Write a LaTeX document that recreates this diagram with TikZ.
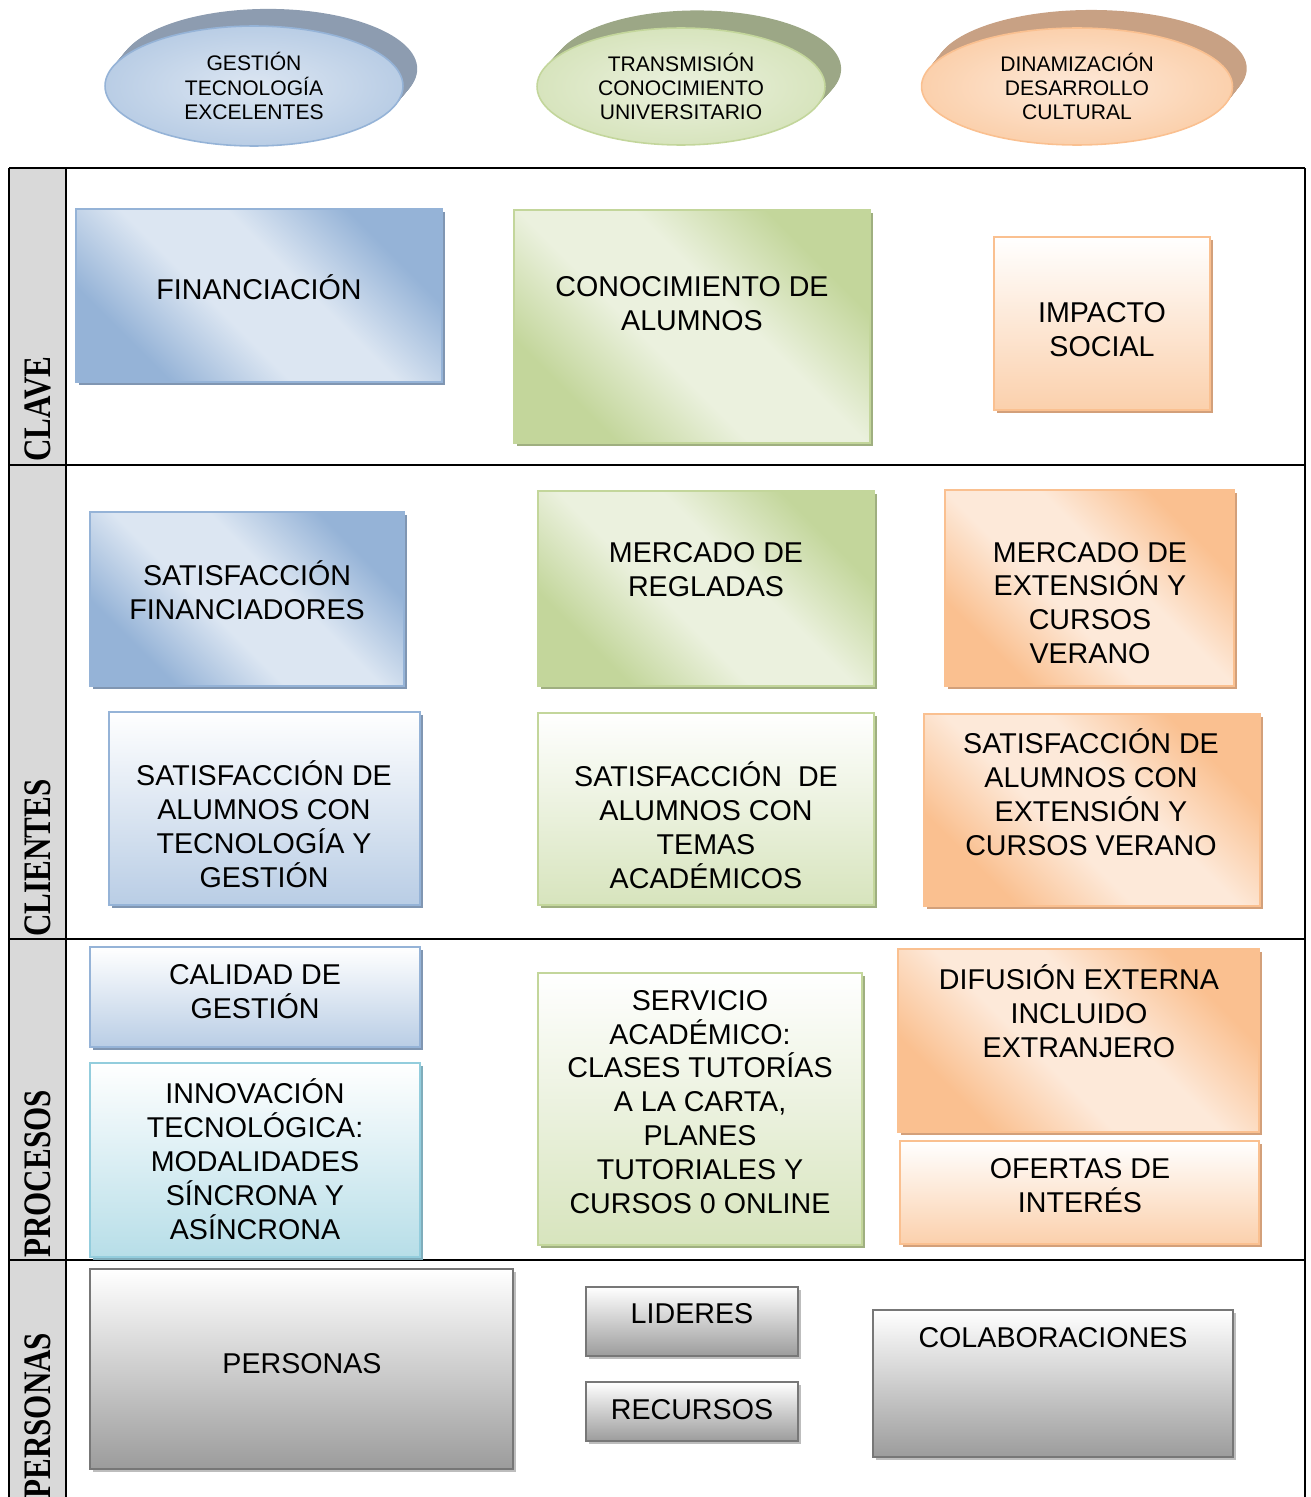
\documentclass[tikz,border=0pt]{standalone}
\usepackage{fontspec}
\setmainfont{Liberation Sans}
\newfontfamily\rowfont{Liberation Serif}
\usetikzlibrary{fit, shadows, shapes.geometric}
\definecolor{bluedark}{HTML}{95B3D7}
\definecolor{bluelight}{HTML}{DCE6F2}
\definecolor{bluemid}{HTML}{B9CDE5}
\definecolor{blueshadow}{HTML}{8096B2}
\definecolor{blueback}{HTML}{8D9CB0}
\definecolor{greendark}{HTML}{C3D69B}
\definecolor{greenlight}{HTML}{EBF1DE}
\definecolor{greenmid}{HTML}{D7E4BD}
\definecolor{greenshadow}{HTML}{9FAF80}
\definecolor{greenback}{HTML}{9CA786}
\definecolor{orangedark}{HTML}{FAC090}
\definecolor{orangelight}{HTML}{FDE9D9}
\definecolor{orangemid}{HTML}{FBD0AC}
\definecolor{orangeshadow}{HTML}{D3A07A}
\definecolor{orangeback}{HTML}{C8A184}
\definecolor{cyandark}{HTML}{93CDDD}
\definecolor{cyanmid}{HTML}{B7DEE8}
\definecolor{cyanshadow}{HTML}{7FADBB}
\definecolor{graydark}{HTML}{777777}
\definecolor{graymid}{HTML}{9C9C9C}
\definecolor{grayshadow}{HTML}{BDBDBD}
\definecolor{rowgray}{HTML}{D9D9D9}
% dark corners, wide light band
\pgfdeclareverticalshading{bluediagsh}{100bp}{color(0bp)=(bluedark); color(27bp)=(bluedark); color(43bp)=(bluelight); color(57bp)=(bluelight); color(73bp)=(bluedark); color(100bp)=(bluedark)}
\pgfdeclareverticalshading{greendiagsh}{100bp}{color(0bp)=(greendark); color(27bp)=(greendark); color(43bp)=(greenlight); color(57bp)=(greenlight); color(73bp)=(greendark); color(100bp)=(greendark)}
\pgfdeclareverticalshading{orangediagsh}{100bp}{color(0bp)=(orangedark); color(27bp)=(orangedark); color(43bp)=(orangelight); color(57bp)=(orangelight); color(73bp)=(orangedark); color(100bp)=(orangedark)}
\newcommand{\rowtxt}[1]{\scalebox{1}[1.25]{#1}}
\tikzset{
box/.style={draw, line width=0.9pt, inner sep=0pt}, % common frame of every box
shadowed/.style={drop shadow={shadow xshift=1.8pt, shadow yshift=-1.8pt, fill=#1, opacity=1}},
diagblue/.style={box, draw=bluedark, shade, shading=bluediagsh, shading angle=-45, shadowed=blueshadow},
diaggreen/.style={box, draw=greendark, shade, shading=greendiagsh, shading angle=-45, shadowed=greenshadow},
diagorange/.style={box, draw=orangedark, shade, shading=orangediagsh, shading angle=-45, shadowed=orangeshadow},
vertblue/.style={box, draw=bluedark, top color=white, bottom color=bluemid, shadowed=blueshadow},
vertgreen/.style={box, draw=greendark, top color=white, bottom color=greenmid, shadowed=greenshadow},
vertorange/.style={box, draw=orangedark, top color=white, bottom color=orangemid, shadowed=orangeshadow},
vertcyan/.style={box, draw=cyandark, top color=white, bottom color=cyanmid, shadowed=cyanshadow},
vertgray/.style={box, draw=graydark, top color=white, bottom color=graymid, shadowed=grayshadow},
txt/.style={align=center, inner sep=0pt, font=\fontsize{16.3}{19.3}\selectfont}, % text in the boxes
etxt/.style={ellipse, inner sep=0pt, line width=0.9pt, minimum width=#1, align=center, font=\fontsize{12}{13.9}\selectfont},
rowlab/.style={rotate=90, anchor=west, inner sep=0pt, font=\rowfont\bfseries\fontsize{17.7}{20}\selectfont}, % row titles
tbl/.style={line width=1.1pt},
}
\begin{document}
\begin{tikzpicture}[x=0.02cm, y=-0.02cm]
\useasboundingbox (0,0) rectangle (1311,1497);
\clip (0,0) rectangle (1311,1497);
% the three axes
\foreach \t in {0,0.05,...,1.0}
  \fill[blueback] (254+15*\t, 86-18*\t) ellipse [x radius=2.98cm, y radius=1.2cm];
\node[etxt=5.96cm, minimum height=2.4cm, draw=bluedark, inner color=bluelight, outer color=bluemid] (gestion) at (254,86) {GESTIÓN\\TECNOLOGÍA\\EXCELENTES};
\foreach \t in {0,0.05,...,1.0}
  \fill[greenback] (681+17*\t, 86.5-18.5*\t) ellipse [x radius=2.88cm, y radius=1.17cm];
\node[etxt=5.76cm, minimum height=2.34cm, draw=greendark, inner color=greenlight, outer color=greenmid] (transmision) at (681,86.5) {TRANSMISIÓN\\CONOCIMIENTO\\UNIVERSITARIO};
\foreach \t in {0,0.05,...,1.0}
  \fill[orangeback] (1077+15*\t, 86.5-19*\t) ellipse [x radius=3.11cm, y radius=1.17cm];
\node[etxt=6.22cm, minimum height=2.34cm, draw=orangedark, inner color=orangelight, outer color=orangemid] (dinamizacion) at (1077,86.5) {DINAMIZACIÓN\\DESARROLLO\\CULTURAL};

% table
\fill[rowgray] (9,168) rectangle (66,1497);
\draw[tbl] (9,168) -- (1305,168) (9,465) -- (1305,465) (9,939) -- (1305,939) (9,1260) -- (1305,1260);
\draw[tbl] (9,168) -- (9,1497) (66,168) -- (66,1497) (1305,168) -- (1305,1497);
\node[rowlab] (clave) at (38,462) {\rowtxt{CLAVE}};
\node[rowlab] (clientes) at (38,937) {\rowtxt{CLIENTES}};
\node[rowlab] (procesos) at (38,1258) {\rowtxt{PROCESOS}};
\node[rowlab] (personas) at (38,1499) {\rowtxt{PERSONAS}};

% CLAVE
\node[diagblue, fit={(76,209) (442,382)}] (fin) {};
\node[txt] (fin-t) at (259,287) {FINANCIACIÓN};
\node[diaggreen, fit={(514,210) (870,443)}] (conoc) {};
\node[txt] (conoc-t) at (692,304) {CONOCIMIENTO DE\\ALUMNOS};
\node[vertorange, fit={(994,237) (1210,410)}] (impacto) {};
\node[txt] (impacto-t) at (1102,330) {IMPACTO\\SOCIAL};

% CLIENTES
\node[diagblue, fit={(90,512) (404,686)}] (satfin) {};
\node[txt] (satfin-t) at (247,590) {SATISFACCIÓN\\FINANCIADORES};
\node[diaggreen, fit={(538,491) (874,686)}] (mercreg) {};
\node[txt] (mercreg-t) at (706,570) {MERCADO DE\\REGLADAS};
\node[diagorange, fit={(945,490) (1234,686)}] (mercext) {};
\node[txt] (mercext-t) at (1090,603) {MERCADO DE\\EXTENSIÓN Y\\CURSOS\\VERANO};
\node[vertblue, fit={(109,712) (420,905)}] (sattec) {};
\node[txt] (sattec-t) at (264,824) {SATISFACCIÓN DE\\ALUMNOS CON\\TECNOLOGÍA Y\\GESTIÓN};
\node[vertgreen, fit={(538,713) (874,905)}] (sattem) {};
\node[txt] (sattem-t) at (706,825) {SATISFACCIÓN\ \ DE\\ALUMNOS CON\\TEMAS\\ACADÉMICOS};
\node[diagorange, fit={(924,714) (1260,906)}] (satext) {};
\node[txt] (satext-t) at (1091,792) {SATISFACCIÓN DE\\ALUMNOS CON\\EXTENSIÓN Y\\CURSOS VERANO};

% PROCESOS
\node[vertblue, fit={(90,947) (420,1047)}] (calidad) {};
\node[txt] (calidad-t) at (255,992) {CALIDAD DE\\GESTIÓN};
\node[vertcyan, fit={(90,1063) (420,1257)}] (innov) {};
\node[txt] (innov-t) at (255,1159) {INNOVACIÓN\\TECNOLÓGICA:\\MODALIDADES\\SÍNCRONA Y\\ASÍNCRONA};
\node[vertgreen, fit={(538,973) (862,1245)}] (servicio) {};
\node[txt] (servicio-t) at (700,1102) {SERVICIO\\ACADÉMICO:\\CLASES TUTORÍAS\\A LA CARTA,\\PLANES\\TUTORIALES Y\\CURSOS 0 ONLINE};
\node[diagorange, fit={(898,949) (1259,1132)}] (difusion) {};
\node[txt] (difusion-t) at (1079,1011) {DIFUSIÓN EXTERNA\\INCLUIDO\\EXTRANJERO};
\node[vertorange, fit={(900,1141) (1259,1244)}] (ofertas) {};
\node[txt] (ofertas-t) at (1080,1186) {OFERTAS DE\\INTERÉS};

% PERSONAS
\node[vertgray, fit={(90,1269) (513,1469)}] (pers) {};
\node[txt] (pers-t) at (302,1364) {PERSONAS};
\node[vertgray, fit={(586,1287) (798,1356)}] (lideres) {};
\node[txt] (lideres-t) at (692,1314) {LIDERES};
\node[vertgray, fit={(586,1382) (798,1441)}] (recursos) {};
\node[txt] (recursos-t) at (692,1410) {RECURSOS};
\node[vertgray, fit={(873,1310) (1233,1457)}] (colab) {};
\node[txt] (colab-t) at (1053,1338) {COLABORACIONES};
\end{tikzpicture}
\end{document}
